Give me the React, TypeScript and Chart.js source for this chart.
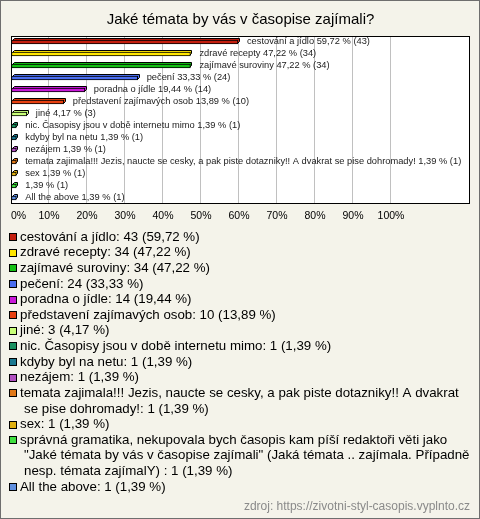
import React, { useEffect, useRef } from "react";
import { Chart, registerables } from "chart.js";

Chart.register(...registerables);

const title = "Jaké témata by vás v časopise zajímali?";
const categories = [
  "cestování a jídlo",
  "zdravé recepty",
  "zajímavé suroviny",
  "pečení",
  "poradna o jídle",
  "představení zajímavých osob",
  "jiné",
  "nic. Časopisy jsou v době internetu mimo",
  "kdyby byl na netu",
  "nezájem",
  "temata zajimala!!! Jezis, naucte se cesky, a pak piste dotazniky!! A dvakrat se pise dohromady!",
  "sex",
  "správná gramatika, nekupovala bych časopis kam píší redaktoři věti jako \"Jaké témata by vás v časopise zajímali\" (Jaká témata .. zajímala. Případně nesp. témata zajímalY) ",
  "All the above",
];
const barLabels = [
  "cestování a jídlo",
  "zdravé recepty",
  "zajímavé suroviny",
  "pečení",
  "poradna o jídle",
  "představení zajímavých osob",
  "jiné",
  "nic. Časopisy jsou v době internetu mimo",
  "kdyby byl na netu",
  "nezájem",
  "temata zajimala!!! Jezis, naucte se cesky, a pak piste dotazniky!! A dvakrat se pise dohromady!",
  "sex",
  "",
  "All the above",
];
const counts = [43, 34, 34, 24, 14, 10, 3, 1, 1, 1, 1, 1, 1, 1];
const percents = [59.72, 47.22, 47.22, 33.33, 19.44, 13.89, 4.17, 1.39, 1.39, 1.39, 1.39, 1.39, 1.39, 1.39];
const colors = [
  "#c41e0e", "#ffe600", "#14c014", "#4a6ef0", "#c818d8", "#e84010", "#c8ff78",
  "#1a9060", "#1a7890", "#b050c0", "#e07818", "#e0b010", "#40e040", "#6090e0",
];
const source = "zdroj: https://zivotni-styl-casopis.vyplnto.cz";

const fmt = (v: number) => v.toFixed(2).replace(".", ",");

const W = 480;
const H = 519;
const BG = "#f4f3ea";

const framePlugin = {
  id: "frame",
  beforeDraw(chart: any) {
    const { ctx, chartArea: a } = chart;
    ctx.save();
    ctx.fillStyle = BG;
    ctx.fillRect(0, 0, W, H);
    ctx.fillStyle = "#ffffff";
    ctx.fillRect(a.left, a.top, a.right - a.left, a.bottom - a.top);
    ctx.restore();
  },
  beforeDatasetsDraw(chart: any) {
    const { ctx } = chart;
    const meta = chart.getDatasetMeta(0);
    const d = 2;
    ctx.save();
    ctx.lineWidth = 1;
    ctx.strokeStyle = "#000";
    meta.data.forEach((el: any, i: number) => {
      const p = el.getProps(["x", "y", "base", "height"], true);
      const top = Math.round(p.y - p.height / 2);
      const bottom = top + p.height;
      const left = Math.round(p.base);
      const right = Math.round(p.x);
      ctx.fillStyle = colors[i];
      ctx.beginPath();
      ctx.moveTo(left + 0.5, top + 0.5);
      ctx.lineTo(left + d + 0.5, top - d + 0.5);
      ctx.lineTo(right + d - 0.5, top - d + 0.5);
      ctx.lineTo(right + d - 0.5, bottom - d - 0.5);
      ctx.lineTo(right - 0.5, bottom - 0.5);
      ctx.lineTo(right - 0.5, top + 0.5);
      ctx.closePath();
      ctx.fill();
      ctx.stroke();
    });
    ctx.restore();
  },
  afterDatasetsDraw(chart: any) {
    const { ctx } = chart;
    const meta = chart.getDatasetMeta(0);
    ctx.save();
    ctx.font = '9.3px "Liberation Sans", Arial, sans-serif';
    ctx.fillStyle = "#222";
    ctx.textBaseline = "middle";
    ctx.textAlign = "left";
    meta.data.forEach((el: any, i: number) => {
      const p = el.getProps(["x", "y"], true);
      const name = barLabels[i];
      const txt = (name ? name + " " : "") + fmt(percents[i]) + " % (" + counts[i] + ")";
      ctx.fillText(txt, p.x + 9, p.y - 0.5);
    });
    ctx.restore();
  },
  afterDraw(chart: any) {
    const { ctx, chartArea: a } = chart;
    ctx.save();
    ctx.strokeStyle = "#000";
    ctx.lineWidth = 1;
    ctx.strokeRect(a.left + 0.5, a.top + 0.5, a.right - a.left - 1, a.bottom - a.top - 1);
    ctx.strokeStyle = "#6e6e6e";
    ctx.strokeRect(0.5, 0.5, W - 1, H - 1);

    // legend
    ctx.font = '13.3px "Liberation Sans", Arial, sans-serif';
    ctx.textBaseline = "middle";
    ctx.textAlign = "left";
    const lh = 15.625;
    let line = 0;
    const y0 = 237;
    categories.forEach((name, i) => {
      const text = name + ": " + counts[i] + " (" + fmt(percents[i]) + " %)";
      const words = text.split(" ");
      const lines: string[] = [];
      let cur = "";
      words.forEach((w) => {
        const cand = cur ? cur + " " + w : w;
        const maxW = lines.length === 0 ? 443 : 450;
        if (cur && ctx.measureText(cand).width > maxW) {
          lines.push(cur);
          cur = w;
        } else {
          cur = cand;
        }
      });
      if (cur) lines.push(cur);
      const y = y0 + line * lh;
      ctx.fillStyle = colors[i];
      ctx.fillRect(9, Math.round(y) - 4, 8, 8);
      ctx.strokeStyle = "#000";
      ctx.strokeRect(9.5, Math.round(y) - 3.5, 7, 7);
      ctx.fillStyle = "#000";
      lines.forEach((l, k) => {
        ctx.fillText(l, k === 0 ? 20 : 24, y0 + (line + k) * lh);
      });
      line += lines.length;
    });

    ctx.font = '12px "Liberation Sans", Arial, sans-serif';
    ctx.fillStyle = "#8a8a8a";
    ctx.textAlign = "right";
    ctx.fillText(source, 470, 507);
    ctx.restore();
  },
};

export default function App() {
  const ref = useRef<HTMLCanvasElement | null>(null);
  useEffect(() => {
    if (!ref.current) return;
    const chart = new Chart(ref.current, {
      type: "bar",
      data: {
        labels: categories,
        datasets: [
          {
            data: percents,
            backgroundColor: colors,
            borderColor: "#000",
            borderWidth: 1,
            borderSkipped: false,
            barThickness: 4,
          },
        ],
      },
      options: {
        indexAxis: "y",
        animation: false,
        responsive: false,
        devicePixelRatio: 1,
        layout: { padding: { left: 11, right: 10, top: 0, bottom: 0 } },
        plugins: {
          legend: { display: false },
          tooltip: { enabled: false },
          title: {
            display: true,
            text: title,
            color: "#000",
            font: { family: '"Liberation Sans", Arial, sans-serif', size: 15, weight: "normal", lineHeight: 1.2 },
            padding: { top: 11, bottom: 7 },
          },
        },
        scales: {
          y: { display: false },
          x: {
            min: 0,
            max: 120.8,
            position: "bottom",
            afterFit: (s: any) => {
              s.height = H - 204;
            },
            border: { display: false },
            grid: {
              drawTicks: false,
              color: (c: any) => (c.tick && c.tick.value > 0 && c.tick.value <= 100 ? "#c0c0c0" : "rgba(0,0,0,0)"),
            },
            ticks: {
              stepSize: 10,
              padding: 6,
              align: "inner",
              maxRotation: 0,
              autoSkip: false,
              color: "#000",
              font: { family: '"Liberation Sans", Arial, sans-serif', size: 10.5 },
              callback: (v: any) => (v <= 100 ? v + "%" : ""),
            },
          },
        },
      },
      plugins: [framePlugin],
    } as any);
    return () => chart.destroy();
  }, []);
  return (
    <div style={{ position: "fixed", left: 0, top: 0, width: W, height: H }}>
      <canvas ref={ref} width={W} height={H} style={{ width: W, height: H, display: "block" }} />
    </div>
  );
}
